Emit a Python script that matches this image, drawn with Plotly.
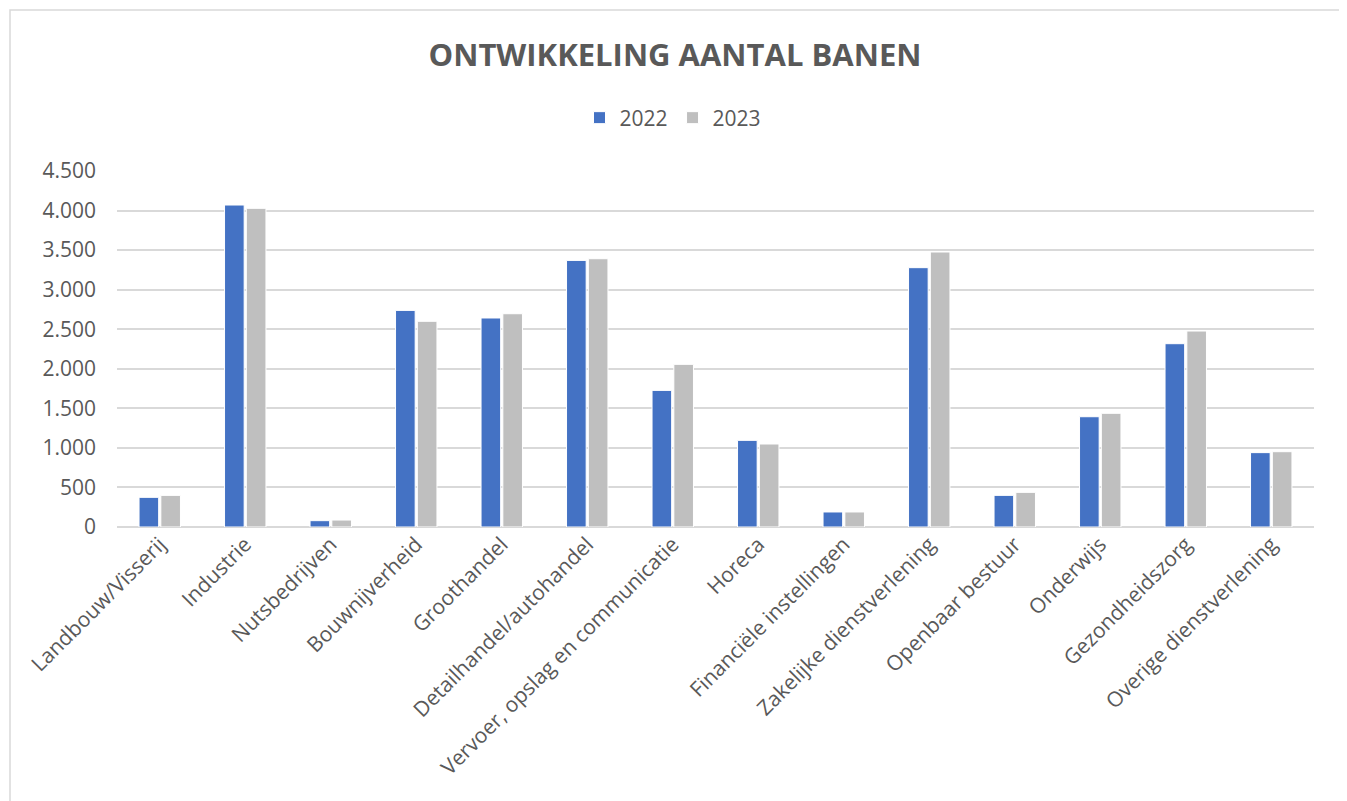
import plotly.graph_objects as go

categories = ["Landbouw/Visserij", "Industrie", "Nutsbedrijven", "Bouwnijverheid",
              "Groothandel", "Detailhandel/autohandel", "Vervoer, opslag en communicatie",
              "Horeca", "Financiële instellingen", "Zakelijke dienstverlening",
              "Openbaar bestuur", "Onderwijs", "Gezondheidszorg", "Overige dienstverlening"]
values_2022 = [375, 4070, 80, 2738, 2642, 3370, 1727, 1095, 190, 3278, 400, 1394, 2317, 940]
values_2023 = [400, 4028, 88, 2600, 2696, 3391, 2056, 1049, 190, 3476, 438, 1437, 2477, 952]
series_names = ["2022", "2023"]
y_ticks = [0, 500, 1000, 1500, 2000, 2500, 3000, 3500, 4000, 4500]

OFF = 8  # browser body margin
W, H = 1347, 801
L, R, T, B = 117, 33, 171, 274
FW, FH = W - OFF, H - OFF
ml, mt = L - OFF, T - OFF
pw, ph = W - L - R, H - T - B

def px_x(x):
    return (x - L) / pw

def px_y(y):
    return (H - B - y) / ph

FONT = "Open Sans"
TXT = "#595959"
FS = 21

fig = go.Figure()
fig.add_trace(go.Bar(name=series_names[0], x=categories, y=values_2022,
                     marker=dict(color="#4472C4", line=dict(color="white", width=1))))
fig.add_trace(go.Bar(name=series_names[1], x=categories, y=values_2023,
                     marker=dict(color="#BFBFBF", line=dict(color="white", width=1))))

fig.update_layout(
    width=FW, height=FH,
    margin=dict(l=ml, r=R, t=mt, b=B, pad=0),
    paper_bgcolor="white", plot_bgcolor="white",
    separators=",.",
    barmode="group", bargap=0.49, bargroupgap=0.1,
    font=dict(family=FONT, size=FS, color=TXT),
    title=dict(text="<b>ONTWIKKELING AANTAL BANEN</b>", x=(675 - OFF) / FW, xanchor="center",
               xref="container", y=1 - (55 - OFF) / FH, yref="container", yanchor="middle",
               font=dict(family=FONT, size=31, color=TXT)),
    legend=dict(orientation="h", x=px_x(673), xanchor="center",
                y=px_y(118), yanchor="middle", font=dict(size=FS, color=TXT),
                itemwidth=30, traceorder="normal"),
    showlegend=True,
)
fig.update_yaxes(range=[0, 4500], tickvals=y_ticks, tickformat=",d",
                 showgrid=True, gridcolor="#D9D9D9", gridwidth=1.5,
                 zeroline=True, zerolinecolor="#D9D9D9", zerolinewidth=1.5,
                 showline=False, ticks="", ticklabelstandoff=20,
                 tickfont=dict(size=FS, color=TXT))
fig.update_xaxes(tickangle=-45, showline=False, ticks="",
                 tickfont=dict(size=FS, color=TXT))

fig.add_shape(type="rect", xref="paper", yref="paper",
              x0=px_x(10), x1=px_x(1340), y0=px_y(H + 20), y1=px_y(10),
              line=dict(color="#D9D9D9", width=1.5), fillcolor="rgba(0,0,0,0)", layer="below")

fig.write_html("out.html")
